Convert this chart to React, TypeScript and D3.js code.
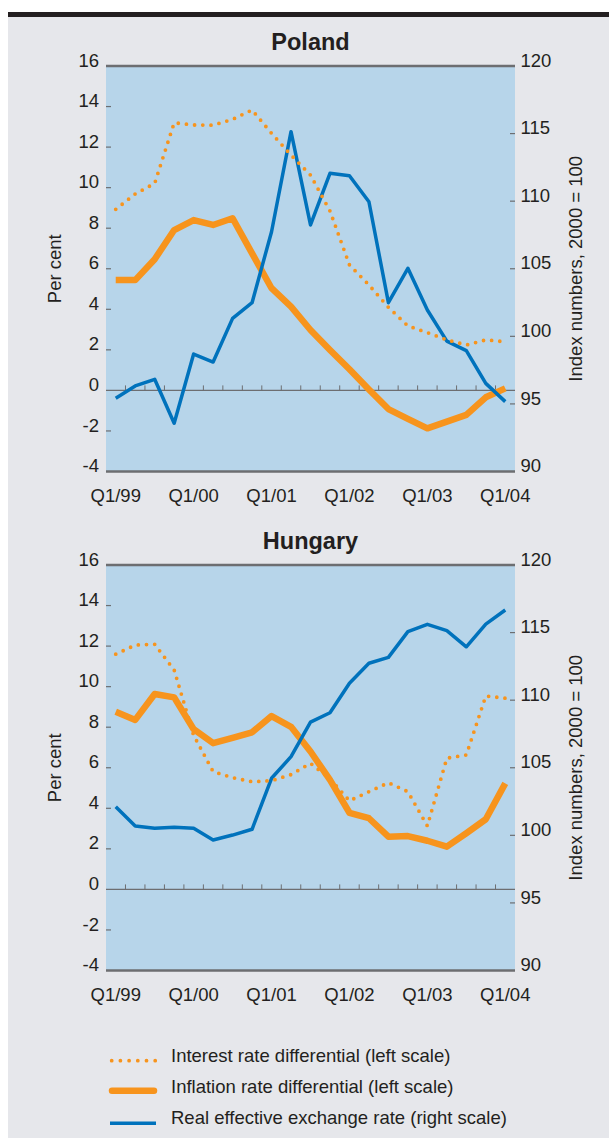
import React from "react";
import * as d3 from "d3";

const quarters: string[] = [
  "Q1/99", "Q2/99", "Q3/99", "Q4/99",
  "Q1/00", "Q2/00", "Q3/00", "Q4/00",
  "Q1/01", "Q2/01", "Q3/01", "Q4/01",
  "Q1/02", "Q2/02", "Q3/02", "Q4/02",
  "Q1/03", "Q2/03", "Q3/03", "Q4/03",
  "Q1/04",
];
const xTickLabels: string[] = ["Q1/99", "Q1/00", "Q1/01", "Q1/02", "Q1/03", "Q1/04"];
const leftTicks: number[] = [-4, -2, 0, 2, 4, 6, 8, 10, 12, 14, 16];
const rightTicks: number[] = [90, 95, 100, 105, 110, 115, 120];

const polandInterest: number[] = [8.93, 9.69, 10.21, 13.2, 13.09, 13.08, 13.37, 13.83, 12.68, 11.61, 10.62, 8.85, 6.19, 5.2, 4.1, 3.18, 2.85, 2.49, 2.24, 2.49, 2.4];
const polandInflation: number[] = [5.44, 5.44, 6.47, 7.91, 8.4, 8.16, 8.49, 6.76, 5.04, 4.13, 2.98, 1.99, 1.04, 0.04, -0.92, -1.4, -1.87, -1.54, -1.21, -0.34, 0.1];
const polandREER: number[] = [95.42, 96.33, 96.82, 93.57, 98.69, 98.1, 101.33, 102.49, 107.74, 115.14, 108.24, 112.06, 111.88, 109.96, 102.49, 105.03, 101.95, 99.65, 98.94, 96.52, 95.17];

const hungaryInterest: number[] = [11.6, 12.05, 12.09, 10.82, 7.6, 5.81, 5.51, 5.31, 5.36, 5.66, 6.22, 5.45, 4.37, 4.82, 5.26, 4.82, 3.13, 6.47, 6.63, 9.54, 9.43];
const hungaryInflation: number[] = [8.76, 8.36, 9.64, 9.47, 7.9, 7.21, 7.47, 7.75, 8.55, 8.02, 6.8, 5.4, 3.78, 3.51, 2.6, 2.63, 2.4, 2.11, 2.77, 3.46, 5.23];
const hungaryREER: number[] = [102.12, 100.69, 100.52, 100.59, 100.52, 99.65, 100.02, 100.45, 104.22, 105.82, 108.38, 109.07, 111.25, 112.73, 113.17, 115.07, 115.61, 115.14, 113.95, 115.63, 116.67];

const legendLabels: string[] = [
  "Interest rate differential (left scale)",
  "Inflation rate differential (left scale)",
  "Real effective exchange rate (right scale)",
];

const ORANGE = "#f7941d";
const BLUE = "#0072bc";
const GREY = "#6d6e71";
const TEXT = "#231f20";
const PLOT_BG = "#b7d5ea";
const PAGE_BG = "#e6e7eb";
const FONT = "'Liberation Sans', Arial, Helvetica, sans-serif";
const FS = 18.5;

const LEFT = 106;
const RIGHT = 515;

interface PanelProps {
  title: string;
  top: number;
  interest: number[];
  inflation: number[];
  reer: number[];
}

function Panel({ title, top, interest, inflation, reer }: PanelProps) {
  const bottom = top + 405.5;
  const x = d3.scaleBand<string>().domain(quarters).range([LEFT, RIGHT]);
  const bw = x.bandwidth();
  const cx = (q: string) => (x(q) as number) + bw / 2;
  const yL = d3.scaleLinear().domain([-4, 16]).range([bottom, top]);
  const yR = d3.scaleLinear().domain([90, 120]).range([bottom, top]);

  const lineL = d3
    .line<number>()
    .x((_, i) => cx(quarters[i]))
    .y((d) => yL(d));
  const lineR = d3
    .line<number>()
    .x((_, i) => cx(quarters[i]))
    .y((d) => yR(d));

  const midY = (top + bottom) / 2;
  const zeroY = yL(0);

  return (
    <g>
      <text x={310.5} y={top - 16.5} textAnchor="middle" fontSize={23.5} fontWeight="bold" fill={TEXT} fontFamily={FONT}>
        {title}
      </text>
      <rect x={LEFT} y={top} width={RIGHT - LEFT} height={bottom - top} fill={PLOT_BG} />
      <line x1={LEFT} x2={RIGHT} y1={zeroY} y2={zeroY} stroke={GREY} strokeWidth={1.2} />
      {quarters.slice(1).map((q) => (
        <line key={q} x1={x(q) as number} x2={x(q) as number} y1={zeroY} y2={zeroY - 5} stroke={GREY} strokeWidth={1} />
      ))}
      {leftTicks.map((t) => (
        <g key={"l" + t}>
          {t !== -4 && t !== 16 && t !== 0 && (
            <line x1={LEFT} x2={LEFT + 5} y1={yL(t)} y2={yL(t)} stroke={GREY} strokeWidth={1.2} />
          )}
          <text x={99} y={yL(t) + 0.6} textAnchor="end" fontSize={FS} fill={TEXT} fontFamily={FONT}>
            {t}
          </text>
        </g>
      ))}
      {rightTicks.map((t) => (
        <g key={"r" + t}>
          {t !== 90 && t !== 120 && (
            <line x1={RIGHT - 5} x2={RIGHT} y1={yR(t)} y2={yR(t)} stroke={GREY} strokeWidth={1.2} />
          )}
          <text x={520.5} y={yR(t) + 0.6} textAnchor="start" fontSize={FS} fill={TEXT} fontFamily={FONT}>
            {t}
          </text>
        </g>
      ))}
      <line x1={RIGHT - 5} x2={RIGHT} y1={top} y2={top} stroke={GREY} strokeWidth={1.5} />
      <path d={lineL(inflation) || ""} fill="none" stroke={ORANGE} strokeWidth={6.5} strokeLinejoin="round" strokeLinecap="butt" />
      <path d={lineR(reer) || ""} fill="none" stroke={BLUE} strokeWidth={3.5} strokeLinejoin="round" />
      <path d={lineL(interest) || ""} fill="none" stroke={ORANGE} strokeWidth={3.8} strokeLinecap="round" strokeDasharray="0 8.2" />
      <line x1={LEFT} x2={RIGHT} y1={top} y2={top} stroke={GREY} strokeWidth={2.4} />
      <line x1={LEFT} x2={RIGHT} y1={bottom} y2={bottom} stroke={GREY} strokeWidth={2.6} />
      {xTickLabels.map((q) => (
        <text key={q} x={cx(q)} y={bottom + 30.5} textAnchor="middle" fontSize={FS} fill={TEXT} fontFamily={FONT}>
          {q}
        </text>
      ))}
      <text transform={`translate(61,${midY}) rotate(-90)`} textAnchor="middle" fontSize={FS} fill={TEXT} fontFamily={FONT}>
        Per cent
      </text>
      <text transform={`translate(581.5,${midY}) rotate(-90)`} textAnchor="middle" fontSize={FS} fill={TEXT} fontFamily={FONT}>
        Index numbers, 2000 = 100
      </text>
    </g>
  );
}

export default function App() {
  const legendY = [1060.7, 1090.7, 1123.3];
  const legendTextY = [1061.7, 1092.5, 1124.2];
  return (
    <svg width={609} height={1138} style={{ position: "absolute", left: 0, top: 0, background: "#ffffff" }}>
      <rect x={0} y={0} width={609} height={1138} fill="#ffffff" />
      <rect x={8} y={12} width={601} height={5} fill={TEXT} />
      <rect x={8} y={17} width={601} height={1121} fill={PAGE_BG} />
      <Panel title="Poland" top={66} interest={polandInterest} inflation={polandInflation} reer={polandREER} />
      <Panel title="Hungary" top={565} interest={hungaryInterest} inflation={hungaryInflation} reer={hungaryREER} />
      <line x1={111.7} x2={157} y1={legendY[0]} y2={legendY[0]} stroke={ORANGE} strokeWidth={3.8} strokeLinecap="round" strokeDasharray="0 8.7" />
      <line x1={112} x2={154} y1={legendY[1]} y2={legendY[1]} stroke={ORANGE} strokeWidth={6.5} strokeLinecap="round" />
      <line x1={110} x2={156} y1={legendY[2]} y2={legendY[2]} stroke={BLUE} strokeWidth={3.5} />
      {legendLabels.map((l, i) => (
        <text key={l} x={171} y={legendTextY[i]} fontSize={FS} fill={TEXT} fontFamily={FONT}>
          {l}
        </text>
      ))}
    </svg>
  );
}
